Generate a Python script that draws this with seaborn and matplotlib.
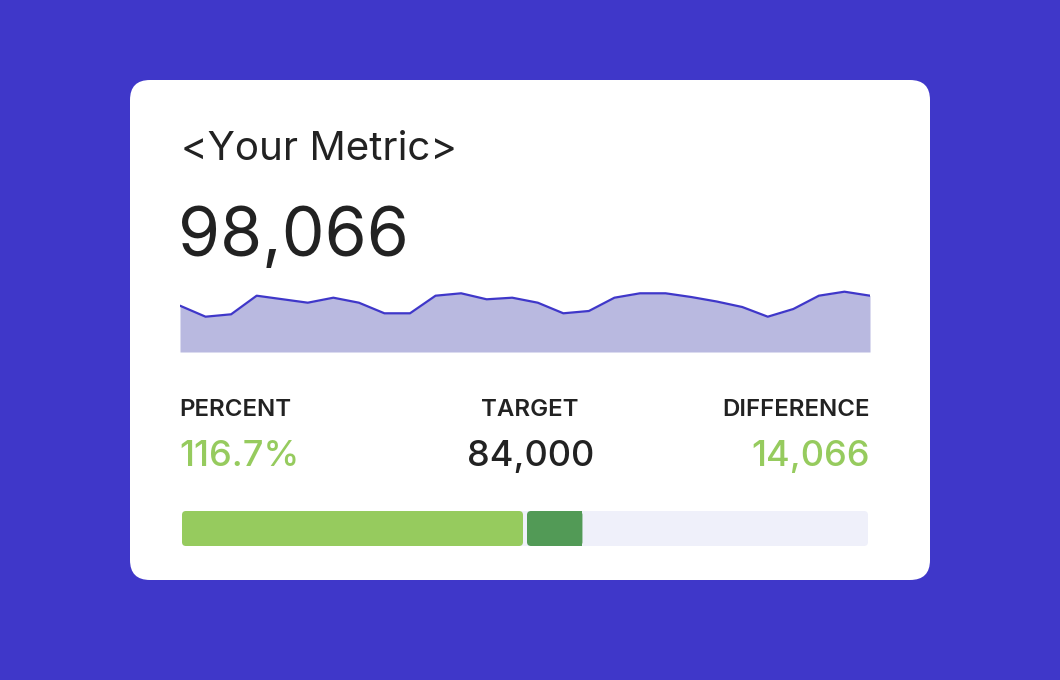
import pandas as pd
import seaborn as sns
import matplotlib.pyplot as plt
from matplotlib.patches import FancyBboxPatch, Rectangle

# data
metric_name = "<Your Metric>"
current_value = 98066
target_value = 84000
trend_values = [46.3, 35.3, 37.7, 56.3, 52.8, 49.3, 54.3, 49.3, 38.7, 38.7,
                56.3, 58.7, 52.7, 54.3, 49.3, 38.7, 41.0, 54.3, 58.7, 58.7,
                55.0, 50.5, 45.0, 35.3, 43.0, 56.3, 60.3, 56.3]
kpi_labels = ["PERCENT", "TARGET", "DIFFERENCE"]
bar_max = 200

percent = current_value / target_value * 100
difference = current_value - target_value

sns.set_theme(style="white")
plt.rcParams['font.family'] = ['Inter', 'DejaVu Sans']

azul = '#3F37C9'
verde = '#96CB5E'
verde_escuro = '#529A56'
texto = '#222222'

fig = plt.figure(figsize=(10.6, 6.8), dpi=100, facecolor=azul)

# fundo + cartao (coordenadas em pixels)
fundo = fig.add_axes([0, 0, 1, 1])
fundo.set_xlim(0, 1060)
fundo.set_ylim(680, 0)
fundo.axis('off')
fundo.add_patch(FancyBboxPatch((130, 80), 800, 500,
                               boxstyle="round,pad=0,rounding_size=20",
                               fc='white', ec='none'))

fundo.text(181, 160, metric_name, fontsize=29, color=texto, va='baseline')
fundo.text(178, 256, f"{current_value:,}", fontsize=49, color=texto, va='baseline')

fundo.text(179.5, 415.5, kpi_labels[0], fontsize=17.3, fontweight='semibold', color=texto, va='baseline')
fundo.text(530, 415.5, kpi_labels[1], fontsize=17.3, fontweight='semibold', color=texto, va='baseline', ha='center')
fundo.text(870, 415.5, kpi_labels[2], fontsize=17.3, fontweight='semibold', color=texto, va='baseline', ha='right')

fundo.text(179, 466, f"{percent:.1f}%", fontsize=26, fontweight='medium', color=verde, va='baseline')
fundo.text(531, 466, f"{target_value:,}", fontsize=26, fontweight='medium', color=texto, va='baseline', ha='center')
fundo.text(870, 466, f"{difference:,}", fontsize=26, fontweight='medium', color=verde, va='baseline', ha='right')

# sparkline
df = pd.DataFrame({'ponto': range(len(trend_values)), 'valor': trend_values})
linha = fig.add_axes([180 / 1060, (680 - 352) / 680, 690 / 1060, 62 / 680])
linha.fill_between(df['ponto'], df['valor'], color='#B9B9E0', lw=0)
sns.lineplot(data=df, x='ponto', y='valor', ax=linha, color=azul, lw=1.6)
linha.set_xlim(0, len(trend_values) - 1)
linha.set_ylim(0, 62)
linha.axis('off')

# barra de progresso
barra = fig.add_axes([182 / 1060, (680 - 546) / 680, 686 / 1060, 35 / 680])
barra.set_xlim(0, bar_max)
barra.set_ylim(0, 1)
barra.axis('off')
px = bar_max / 686  # unidades por pixel
asp = (1 / 35) / px
gap = 2 * px
barra.add_patch(FancyBboxPatch((0, 0), bar_max, 1, boxstyle=f"round,pad=0,rounding_size={4 * px}",
                               mutation_aspect=asp, fc='#EFF0FA', ec='none'))
barra.add_patch(FancyBboxPatch((0, 0), 100 - gap, 1, boxstyle=f"round,pad=0,rounding_size={4 * px}",
                               mutation_aspect=asp, fc=verde, ec='none'))
barra.add_patch(FancyBboxPatch((100 + gap, 0), percent - 100 - gap, 1,
                               boxstyle=f"round,pad=0,rounding_size={4 * px}",
                               mutation_aspect=asp, fc=verde_escuro, ec='none'))
barra.add_patch(Rectangle((percent - 6 * px, 0), 6 * px, 1, fc=verde_escuro, ec='none'))

fig.savefig('out.png', dpi=100, facecolor=azul)
